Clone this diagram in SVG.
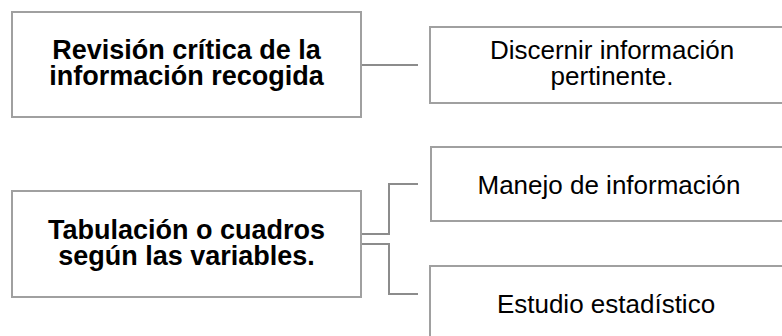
<svg xmlns="http://www.w3.org/2000/svg" width="782" height="336" viewBox="0 0 782 336">
<style>
.box{fill:#fff;stroke:#a0a0a0;stroke-width:2}
.con{fill:none;stroke:#8c8c8c;stroke-width:2}
.t{font-family:"Liberation Sans",Arial,sans-serif;font-size:26px;fill:#000;text-anchor:middle}
.b{font-weight:bold;font-size:27px}
</style>
<rect width="782" height="336" fill="#fff"/>
<g id="connectors">
<path class="con" d="M361,65 H418"/>
<path class="con" d="M361,234 H389 V184 H418"/>
<path class="con" d="M361,244 H389 V294 H418"/>
</g>
<g id="n1">
<rect class="box" x="12" y="12" width="349" height="105"/>
<text class="t b" x="186.5" y="59">Revisión crítica de la</text>
<text class="t b" x="186.5" y="85">información recogida</text>
</g>
<g id="n2">
<rect class="box" x="430" y="27" width="366" height="76"/>
<text class="t" x="612" y="59">Discernir información</text>
<text class="t" x="612" y="85">pertinente.</text>
</g>
<g id="n3">
<rect class="box" x="12" y="191" width="349" height="106"/>
<text class="t b" x="186.5" y="239">Tabulación o cuadros</text>
<text class="t b" x="186.5" y="265">según las variables.</text>
</g>
<g id="n4">
<rect class="box" x="431" y="147" width="366" height="74"/>
<text class="t" x="609" y="194">Manejo de información</text>
</g>
<g id="n5">
<rect class="box" x="430" y="266" width="366" height="90"/>
<text class="t" x="606" y="313">Estudio estadístico</text>
</g>
</svg>
